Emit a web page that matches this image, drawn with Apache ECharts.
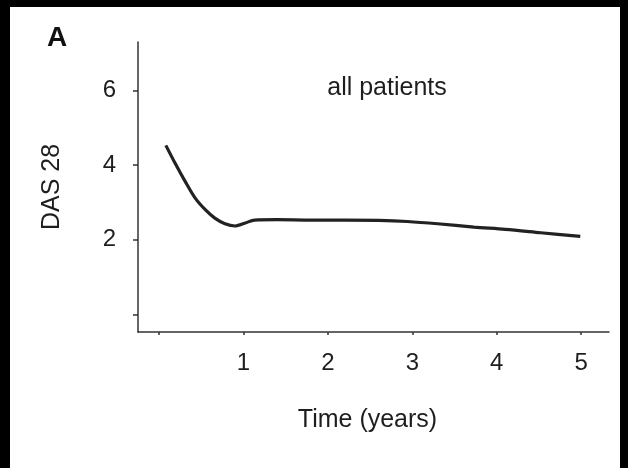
<!DOCTYPE html>
<html>
<head>
<meta charset="utf-8">
<script src="https://cdn.jsdelivr.net/npm/echarts@6/dist/echarts.min.js"></script>
<style>
  html, body { margin: 0; padding: 0; width: 628px; height: 468px; background: #000; overflow: hidden; }
  #chart { position: absolute; left: 10px; top: 7px; width: 610px; height: 461px; background: #fff; }
</style>
</head>
<body>
<div id="chart"></div>
<script>
// Mean DAS 28 over follow-up time (years)
const timeYears = [0.08, 0.19, 0.31, 0.43, 0.55, 0.66, 0.78, 0.90, 1.02, 1.13, 1.4, 1.8, 2.2, 2.6, 2.94, 3.3, 3.73, 4.1, 4.52, 4.99];
const das28 = [4.53, 4.05, 3.56, 3.11, 2.80, 2.58, 2.43, 2.37, 2.45, 2.53, 2.54, 2.53, 2.53, 2.52, 2.49, 2.43, 2.34, 2.28, 2.19, 2.09];
const xTicks = [0, 1, 2, 3, 4, 5];
const xTickLabels = [1, 2, 3, 4, 5];
const yTicks = [0, 2, 4, 6];
const yTickLabels = [2, 4, 6];

const seriesData = timeYears.map((t, i) => [t, das28[i]]);
const font = '"Liberation Sans", Arial, Helvetica, sans-serif';
const ink = '#1e1e1e';

const chart = echarts.init(document.getElementById('chart'), null, { renderer: 'canvas' });
chart.setOption({
  animation: false,
  backgroundColor: '#fff',
  grid: { left: 128, top: 35, width: 471, height: 290, containLabel: false },
  xAxis: {
    type: 'value',
    min: -0.25,
    max: 5.33,
    name: 'Time (years)',
    nameLocation: 'middle',
    nameGap: 76,
    nameTextStyle: { fontFamily: font, fontSize: 25, color: ink, padding: [0, 12, 0, 0] },
    axisLine: { show: true, onZero: false, lineStyle: { color: '#333', width: 1.5 } },
    axisTick: { show: true, length: 3, customValues: xTicks, lineStyle: { color: '#333', width: 1.5 } },
    axisLabel: { customValues: xTickLabels, fontFamily: font, fontSize: 24, color: ink, margin: 19 },
    splitLine: { show: false }
  },
  yAxis: {
    type: 'value',
    min: -0.47,
    max: 7.3,
    name: 'DAS 28',
    nameLocation: 'middle',
    nameGap: 73,
    nameTextStyle: { fontFamily: font, fontSize: 25, color: ink },
    axisLine: { show: true, onZero: false, lineStyle: { color: '#333', width: 1.5 } },
    axisTick: { show: true, length: 5, customValues: yTicks, lineStyle: { color: '#333', width: 1.5 } },
    axisLabel: { customValues: yTickLabels, fontFamily: font, fontSize: 24, color: ink, margin: 22 },
    splitLine: { show: false }
  },
  graphic: [
    {
      type: 'text', left: 37, top: 17,
      style: { text: 'A', fontFamily: font, fontSize: 28, fontWeight: 'bold', fill: '#111' }
    },
    {
      type: 'text', x: 377, y: 81,
      style: { text: 'all patients', fontFamily: font, fontSize: 25, fill: ink, align: 'center', verticalAlign: 'middle' }
    }
  ],
  series: [{
    type: 'line',
    data: seriesData,
    smooth: 0.3,
    showSymbol: false,
    lineStyle: { color: '#222', width: 3.2 }
  }]
});
</script>
</body>
</html>
